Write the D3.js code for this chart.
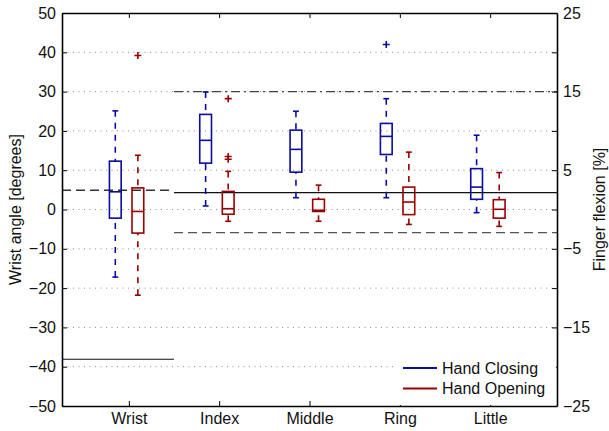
<!DOCTYPE html>
<html>
<head>
<meta charset="utf-8">
<script src="https://cdn.jsdelivr.net/npm/d3@7"></script>
<style>
  body { margin: 0; background: #fff; }
  text { font-family: "Liberation Sans", Arial, sans-serif; }
</style>
</head>
<body>
<div id="chart"></div>
<script>
// DATA
const categories = ["Wrist", "Index", "Middle", "Ring", "Little"];

// box stats [low whisker, q1, median, q3, high whisker] in degrees (left axis)
const closingLow = [-17.2, 0.9, 3.0, 3.0, -0.8];
const closingQ1 = [-2.2, 11.8, 9.5, 14.0, 2.6];
const closingMed = [4.5, 17.6, 15.3, 18.6, 5.7];
const closingQ3 = [12.3, 24.2, 20.2, 21.9, 10.4];
const closingHigh = [25.1, 29.9, 25.0, 28.2, 18.9];
const closingOutliers = [[], [], [], [42.0], []];

const openingLow = [-21.8, -3.0, -3.0, -3.8, -4.3];
const openingQ1 = [-6.0, -1.2, -0.5, -1.3, -2.2];
const openingMed = [-0.5, 0.2, -0.2, 1.9, 0.05];
const openingQ3 = [5.5, 4.6, 2.6, 5.7, 2.5];
const openingHigh = [13.8, 9.7, 6.2, 14.6, 9.4];
const openingOutliers = [[39.2], [28.2, 13.5, 12.8], [], [], []];

// reference lines
const wristLines = [4.9, -38.1];          // degrees: dashed, solid
const fingerLines = [15, 2.15, -2.95];     // % flexion: dash-dot, solid, dashed

const leftTicks = [50, 40, 30, 20, 10, 0, -10, -20, -30, -40, -50];
const rightTicks = [25, 20, 15, 10, 5, 0, -5, -10, -15, -20, -25];
const rightLabels = [25, 15, 5, -5, -15, -25];

const width = 609, height = 431,
  margin = { top: 13, bottom: 25, left: 62, right: 52 };

const blue = "#0c0c9e", red = "#990000";
const fs = 16;

const svg = d3.select("#chart").append("svg")
  .attr("width", width).attr("height", height);

// SCALES
const x = d3.scaleLinear().domain([0.26, 5.74])
  .range([margin.left, width - margin.right]);
const y = d3.scaleLinear().domain([-50, 50])
  .range([height - margin.bottom, margin.top]);
const y2 = d3.scaleLinear().domain([-25, 25])
  .range([height - margin.bottom, margin.top]);

// grid (dotted)
svg.append("g").selectAll("line")
  .data(leftTicks.filter(d => d > -50 && d < 50))
  .join("line")
  .attr("x1", x.range()[0]).attr("x2", x.range()[1])
  .attr("y1", d => y(d)).attr("y2", d => y(d))
  .attr("stroke", "#8a8a8a").attr("stroke-width", 1)
  .attr("stroke-dasharray", "1,4.5");

// reference lines: wrist part
const xw = [0.26, 1.5], xf = [1.5, 5.74];
svg.append("line")
  .attr("x1", x(xw[0])).attr("x2", x(xw[1]))
  .attr("y1", y(wristLines[0])).attr("y2", y(wristLines[0]))
  .attr("stroke", "#333").attr("stroke-width", 1.3)
  .attr("stroke-dasharray", "9,5");
svg.append("line")
  .attr("x1", x(xw[0])).attr("x2", x(xw[1]))
  .attr("y1", y(wristLines[1])).attr("y2", y(wristLines[1]))
  .attr("stroke", "#111").attr("stroke-width", 1.2);

// reference lines: finger part
svg.append("line")
  .attr("x1", x(xf[0])).attr("x2", x(xf[1]))
  .attr("y1", y2(fingerLines[0])).attr("y2", y2(fingerLines[0]))
  .attr("stroke", "#444").attr("stroke-width", 1.2)
  .attr("stroke-dasharray", "9,4,2,4");
svg.append("line")
  .attr("x1", x(xf[0])).attr("x2", x(xf[1]))
  .attr("y1", y2(fingerLines[1])).attr("y2", y2(fingerLines[1]))
  .attr("stroke", "#111").attr("stroke-width", 1.2);
svg.append("line")
  .attr("x1", x(xf[0])).attr("x2", x(xf[1]))
  .attr("y1", y2(fingerLines[2])).attr("y2", y2(fingerLines[2]))
  .attr("stroke", "#555").attr("stroke-width", 1.3)
  .attr("stroke-dasharray", "9,5");

// BOXES
const boxW = 0.13, capW = 0.065;
function drawBoxes(low, q1, med, q3, high, outliers, offset, color) {
  const g = svg.append("g");
  const rows = categories.map((c, i) => ({
    i, low: low[i], q1: q1[i], med: med[i], q3: q3[i], high: high[i], out: outliers[i]
  }));
  const cx = d => x(d.i + 1 + offset);

  // whiskers
  g.selectAll(".wu").data(rows).join("line")
    .attr("x1", cx).attr("x2", cx)
    .attr("y1", d => y(d.high)).attr("y2", d => y(d.q3))
    .attr("stroke", color).attr("stroke-width", 1.6)
    .attr("stroke-dasharray", "6,6");
  g.selectAll(".wl").data(rows).join("line")
    .attr("x1", cx).attr("x2", cx)
    .attr("y1", d => y(d.low)).attr("y2", d => y(d.q1))
    .attr("stroke", color).attr("stroke-width", 1.6)
    .attr("stroke-dasharray", "6,6");
  // caps
  ["high", "low"].forEach(k => {
    g.selectAll(".cap-" + k).data(rows).join("line")
      .attr("x1", d => x(d.i + 1 + offset - capW / 2))
      .attr("x2", d => x(d.i + 1 + offset + capW / 2))
      .attr("y1", d => y(d[k])).attr("y2", d => y(d[k]))
      .attr("stroke", color).attr("stroke-width", 1.6);
  });
  // box
  g.selectAll("rect").data(rows).join("rect")
    .attr("x", d => x(d.i + 1 + offset - boxW / 2))
    .attr("width", x(boxW) - x(0))
    .attr("y", d => y(d.q3))
    .attr("height", d => y(d.q1) - y(d.q3))
    .attr("fill", "none").attr("stroke", color).attr("stroke-width", 1.6);
  // median
  g.selectAll(".med").data(rows).join("line")
    .attr("x1", d => x(d.i + 1 + offset - boxW / 2))
    .attr("x2", d => x(d.i + 1 + offset + boxW / 2))
    .attr("y1", d => y(d.med)).attr("y2", d => y(d.med))
    .attr("stroke", color).attr("stroke-width", 1.6);
  // outliers
  const pts = rows.flatMap(d => d.out.map(v => ({ i: d.i, v })));
  g.selectAll("path").data(pts).join("path")
    .attr("transform", d => `translate(${x(d.i + 1 + offset)},${y(d.v)})`)
    .attr("d", "M-3.5,0H3.5M0,-3.5V3.5")
    .attr("stroke", color).attr("stroke-width", 1.6);
}
drawBoxes(closingLow, closingQ1, closingMed, closingQ3, closingHigh, closingOutliers, -0.15, blue);
drawBoxes(openingLow, openingQ1, openingMed, openingQ3, openingHigh, openingOutliers, 0.1, red);

// AXES
const minus = d => d < 0 ? "\u2212" + Math.abs(d) : d;
const yAxis = d3.axisLeft(y).tickValues(leftTicks).tickSizeInner(-5).tickSizeOuter(0)
  .tickPadding(6).tickFormat(minus);
const y2Axis = d3.axisRight(y2).tickValues(rightTicks).tickSizeInner(-5).tickSizeOuter(0)
  .tickPadding(6).tickFormat(d => rightLabels.includes(d) ? minus(d) : "");
const xAxis = d3.axisBottom(x).tickValues([1, 2, 3, 4, 5]).tickSizeInner(-5).tickSizeOuter(0)
  .tickPadding(7).tickFormat((d, i) => categories[i]);
const xTop = d3.axisTop(x).tickValues([1, 2, 3, 4, 5]).tickSizeInner(-5).tickSizeOuter(0)
  .tickFormat("");

function styleAxis(g) {
  g.select(".domain").attr("stroke", "#000").attr("stroke-width", 1.6);
  g.selectAll(".tick line").attr("stroke", "#000").attr("stroke-width", 1);
  g.selectAll(".tick text").attr("font-size", fs).attr("fill", "#111");
}

svg.append("g").attr("transform", `translate(${margin.left},0)`).call(yAxis).call(styleAxis);
svg.append("g").attr("transform", `translate(${width - margin.right},0)`).call(y2Axis).call(styleAxis);
svg.append("g").attr("transform", `translate(0,${height - margin.bottom})`).call(xAxis).call(styleAxis);
svg.append("g").attr("transform", `translate(0,${margin.top})`).call(xTop).call(styleAxis);

// axis labels
svg.append("text")
  .attr("transform", `translate(21,${y(0)}) rotate(-90)`)
  .attr("text-anchor", "middle").attr("font-size", fs).attr("fill", "#111")
  .text("Wrist angle [degrees]");
svg.append("text")
  .attr("transform", `translate(605,${y(0)}) rotate(-90)`)
  .attr("text-anchor", "middle").attr("font-size", fs).attr("fill", "#111")
  .text("Finger flexion [%]");

// LEGEND
const legendItems = [["Hand Closing", blue], ["Hand Opening", red]];
const legend = svg.append("g").attr("transform", "translate(396,352)");
legend.append("rect").attr("width", x.range()[1] - 397).attr("height", y.range()[0] - 353)
  .attr("fill", "#fff");
legendItems.forEach(([label, color], i) => {
  const row = legend.append("g").attr("transform", `translate(0,${16 + i * 20.5})`);
  row.append("line").attr("x1", 7).attr("x2", 41).attr("stroke", color).attr("stroke-width", 1.8);
  row.append("text").attr("x", 46).attr("dy", "0.35em")
    .attr("font-size", fs).attr("fill", "#111").text(label);
});
</script>
</body>
</html>
